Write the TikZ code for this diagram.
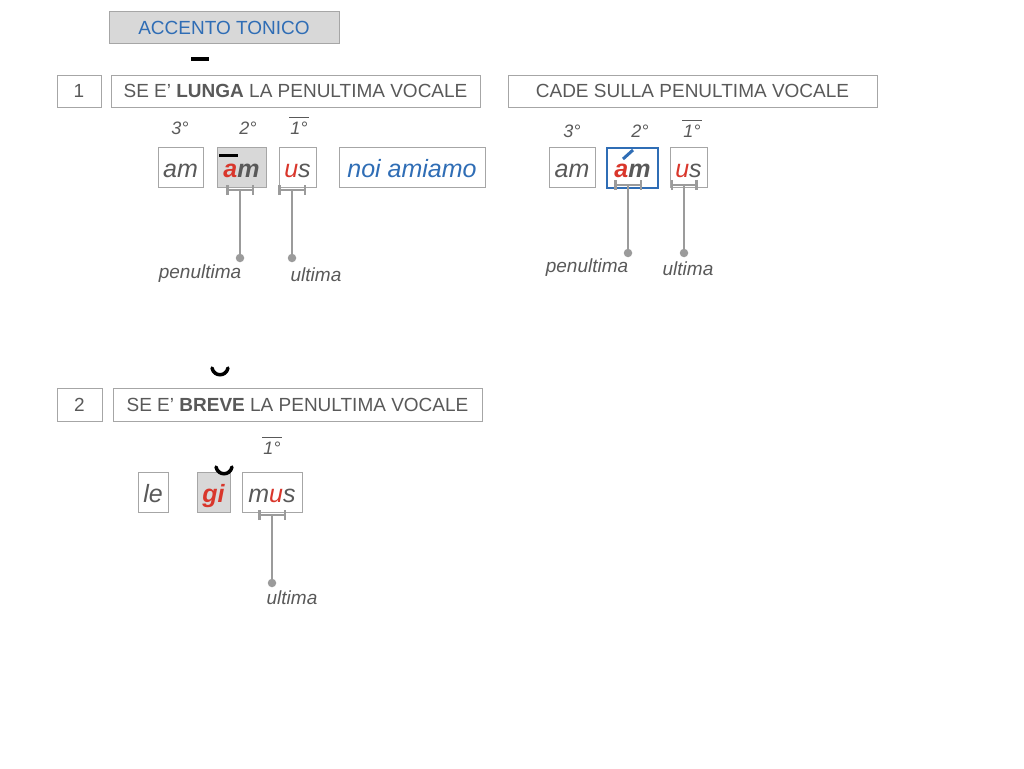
\documentclass[tikz,border=0pt]{standalone}
\usepackage{fontspec}
\setmainfont{Liberation Sans}
\usetikzlibrary{arrows.meta}
\definecolor{grisTexte}{HTML}{595959}
\definecolor{grisBord}{HTML}{A6A6A6}
\definecolor{grisFond}{HTML}{D8D8D8}
\definecolor{grisLien}{HTML}{9B9B9B}
\definecolor{rouge}{HTML}{D9362B}
\definecolor{bleu}{HTML}{2F6DB5}

\tikzset{cadre/.style = {draw=grisBord, line width=1pt, inner sep=0pt, text=grisTexte,
                         minimum width=#1, minimum height=32pt,
                         font=\fontsize{19}{22}\selectfont},
         cadre/.default=44pt,
         syllabe/.style = {draw=grisBord, line width=1pt, inner sep=0pt, text=grisTexte,
                           minimum width=#1, minimum height=40pt,
                           text height=20pt, text depth=0pt,
                           font=\fontsize{25}{28}\selectfont\itshape},
         rang/.style = {inner sep=0pt, text=grisTexte, font=\fontsize{18}{20}\selectfont\itshape},
         etiquette/.style = {inner sep=0pt, text=grisTexte, font=\fontsize{19}{22}\selectfont\itshape},
         crochet/.style = {draw=grisLien, line width=2.5pt, {Bar[width=10pt]}-{Bar[width=10pt]}},
         tige/.style = {draw=grisLien, line width=2.5pt},
         point/.style = {circle, fill=grisLien, inner sep=0pt, minimum size=8.5pt},
         longue/.style = {line width=#1},
         longue/.default=4pt,
         breve/.style = {line width=3.5pt, line cap=round},
         sopra/.style = {draw=grisTexte, line width=1.2pt}
        }

\begin{document}
\begin{tikzpicture}[x=1pt, y=-1pt]
  \useasboundingbox (0,0) rectangle (1024,768);

  \node[cadre=230pt, fill=grisFond, text=bleu] (titre) at (224,27.5) {ACCENTO TONICO};
  \draw[longue] (191,59) -- (209,59);

  % regola 1
  \node[cadre] (n1) at (79,91) {1};
  \node[cadre=369pt] (r1) at (295.5,91) {SE E' \textbf{LUNGA} LA PENULTIMA VOCALE};
  \node[cadre=369pt] (r1b) at (692.5,91) {CADE SULLA PENULTIMA VOCALE};

  \node[rang] (a3) at (180,128) {3°};
  \node[rang] (a2) at (248,128) {2°};
  \node[rang] (a1) at (299,128) {1°};
  \draw[sopra] ([shift={(-1pt,4pt)}]a1.north west) -- ([shift={(1pt,4pt)}]a1.north east);

  \node[syllabe=45pt] (s1) at (180.5,167) {am};
  \node[syllabe=49pt, fill=grisFond] (s2) at (241.5,167) {\textbf{\textcolor{rouge}{a}m}};
  \draw[longue=3pt] (219,155) -- (238,155);
  \node[syllabe=37pt] (s3) at (297.5,167) {\textcolor{rouge}{u}s};
  \node[syllabe=146pt, text=bleu] (s4) at (412,167) {noi amiamo};

  \coordinate (c2) at (240,190);
  \draw[crochet] ([xshift=-14pt]c2) -- ([xshift=14pt]c2);
  \node[point] (p2) at (240,258) {};
  \draw[tige] (c2) -- (p2);
  \node[etiquette] (e2) at (200,274) {penultima};

  \coordinate (c3) at (292,190);
  \draw[crochet] ([xshift=-14pt]c3) -- ([xshift=14pt]c3);
  \node[point] (p3) at (292,258) {};
  \draw[tige] (c3) -- (p3);
  \node[etiquette] (e3) at (316,275) {ultima};

  % accento
  \node[rang] (b3) at (572,131) {3°};
  \node[rang] (b2) at (640,131) {2°};
  \node[rang] (b1) at (692,131) {1°};
  \draw[sopra] ([shift={(-1pt,4pt)}]b1.north west) -- ([shift={(1pt,4pt)}]b1.north east);

  \node[syllabe=46pt] (t1) at (572,167.5) {am};
  \node[syllabe=51pt, draw=bleu, line width=2pt] (t2) at (632.5,167.5) {\textbf{\textcolor{rouge}{a}m}};
  \draw[bleu, line width=3pt] (623,159) -- (633,150);
  \node[syllabe=37pt] (t3) at (688.5,167.5) {\textcolor{rouge}{u}s};

  \coordinate (d2) at (628,185);
  \draw[crochet] ([xshift=-14pt]d2) -- ([xshift=14pt]d2);
  \node[point] (q2) at (628,253) {};
  \draw[tige] (d2) -- (q2);
  \node[etiquette] (f2) at (587,268) {penultima};

  \coordinate (d3) at (684,185);
  \draw[crochet] ([xshift=-13.5pt]d3) -- ([xshift=13.5pt]d3);
  \node[point] (q3) at (684,253) {};
  \draw[tige] (d3) -- (q3);
  \node[etiquette] (f3) at (688,269) {ultima};

  % regola 2
  \draw[breve] (212,368) .. controls (214,377) and (226,377) .. (228,368);
  \node[cadre=45pt, minimum height=33pt] (n2) at (79.5,404.5) {2};
  \node[cadre=369pt, minimum height=33pt] (r2) at (297.5,404.5) {SE E' \textbf{BREVE} LA PENULTIMA VOCALE};

  \node[rang] (m1) at (272,448) {1°};
  \draw[sopra] ([shift={(-1pt,4pt)}]m1.north west) -- ([shift={(1pt,4pt)}]m1.north east);

  \node[syllabe=30pt] (le) at (153,492) {le};
  \node[syllabe=33pt, fill=grisFond, text=rouge] (gi) at (213.5,492) {\textbf{gi}};
  \draw[breve] (216,467) .. controls (218,476) and (230,476) .. (232,467);
  \node[syllabe=60pt] (mus) at (272,492) {m\textcolor{rouge}{u}s};

  \coordinate (g1) at (272,515);
  \draw[crochet] ([xshift=-14pt]g1) -- ([xshift=14pt]g1);
  \node[point] (h1) at (272,583) {};
  \draw[tige] (g1) -- (h1);
  \node[etiquette] (k1) at (292,598) {ultima};
\end{tikzpicture}
\end{document}
